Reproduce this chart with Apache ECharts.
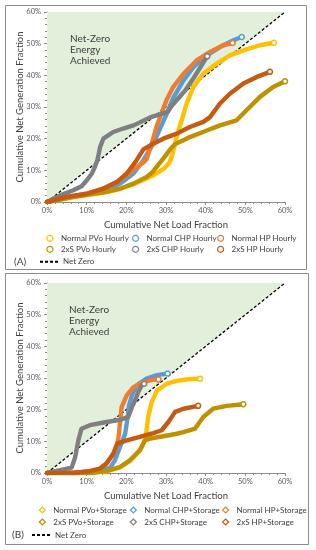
<!DOCTYPE html>
<html><head><meta charset="utf-8">
<script src="https://cdn.jsdelivr.net/npm/echarts@6.0.0/dist/echarts.min.js"></script>
<style>html,body{margin:0;padding:0;background:#fff}#c{width:316px;height:550px}</style>
</head><body><div id="c"></div>
<script>
// ---------- data (values in percent) ----------
const tickValues = [0, 10, 20, 30, 40, 50, 60];
const netZero = [[0, 0], [60, 60]];

// Panel A – hourly
const A_normalPVo = [[0,0],[6.6,1.5],[11.7,2.5],[15,3.1],[18.4,4.1],[21.8,5.6],[25.1,7.4],[27.6,9],[29.5,10.6],[30.8,12.3],[31.5,14.5],[32.2,18],[33,22],[34,26],[35.2,31.1],[36.9,36.3],[39.4,40.5],[42.8,43.7],[46.1,46.3],[49.5,47.9],[53.7,49.5],[57.2,50.3]];
const A_normalCHP = [[0,0],[5,1.4],[10,2.4],[15,3.7],[18.4,5.8],[21.8,9],[24.3,13.2],[26.8,18.4],[28.5,23.2],[30.2,27.9],[31.8,32.8],[34.4,38.4],[36.9,42.6],[40.3,46.3],[43.6,48.9],[47,51.1],[49.1,52.1]];
const A_normalHP  = [[0,0],[5,1.6],[10,2.6],[14.2,4.2],[17.6,6.3],[20.1,8.5],[22.6,11],[24.3,12.5],[25.1,13.5],[26.4,18.4],[27.6,23.7],[28.9,28.2],[30.2,32.4],[31.8,36.3],[34.4,40.5],[37.7,44.7],[41.1,47.4],[44.4,49.5],[46.8,50.2]];
const A_2xSPVo    = [[0,0],[6.6,1.6],[11.7,2.6],[15,3.2],[18.4,4.2],[21.8,5.8],[25.1,7.9],[26.5,9.3],[28.5,12.4],[30,14.8],[31,16.6],[32.3,18.3],[34.4,19.5],[36,20.5],[40.3,22.6],[43.6,24.2],[47.8,25.8],[50.3,29],[53.7,33.2],[57,36.3],[60,38.1]];
const A_2xSCHP    = [[0,0],[3.3,2.1],[6.6,3.7],[8.7,5],[10,6.8],[11.3,9],[12.1,11.1],[12.7,13.2],[13.4,17.4],[14.2,20],[16.7,22.1],[19.2,23.2],[21.8,24.2],[26,26.7],[29.3,28],[30.5,28.6],[31.4,30.3],[33.5,33.3],[34.7,35],[36.9,39],[39,43.2],[40.4,46]];
const A_2xSHP     = [[0,0],[5,1.6],[10,2.6],[14.2,4.2],[17.6,6.3],[20.1,9],[22.6,13.2],[24.3,16.6],[26.8,18.4],[29.3,20],[32.7,21.6],[36,23.7],[39.4,25.3],[41.1,26.8],[43.6,31.1],[46.1,34.2],[49.5,37.4],[52.9,39.5],[56.2,41.1]];

// Panel B – with storage
const B_normalPVo = [[0,0],[10.8,0],[15,0.5],[18.4,1.8],[20.9,3.8],[23.4,7],[24.7,10.3],[25.1,13.5],[25.5,17.7],[26.4,22.4],[27.7,26],[29.3,27.4],[30.2,28.2],[32.7,29.1],[35.5,29.6],[38.6,29.8]];
const B_normalCHP = [[0,0],[6.6,0],[10.8,0.5],[13.4,1],[15.9,1.6],[17.1,4],[18.4,8.2],[19.7,12.4],[20.2,16.6],[20.7,21.4],[21.4,24.5],[22.6,27.7],[25.1,29.8],[27.7,30.9],[30.4,31.4]];
const B_normalHP  = [[0,0],[6.6,0],[10.8,0.6],[13.4,1.4],[15,3],[16.7,6],[17.6,8.5],[18,11],[18.4,15.6],[18.8,20.8],[20.1,24.5],[21.8,27.1],[24.3,28.7],[26.8,29.5],[28.1,29.5]];
const B_2xSPVo    = [[0,0],[10.8,0],[15,0.6],[18.4,1.9],[20.9,4],[23.4,7.2],[24.7,10.3],[26,10.9],[29.3,11.6],[32.7,12.4],[34.4,12.9],[37.3,14],[39.4,17.7],[41.9,20.3],[45.3,21.2],[49.5,21.7]];
const B_2xSCHP    = [[0,0],[3.3,0.9],[6.2,1.7],[7.1,5],[7.9,10.3],[8.7,14],[10.8,15.1],[15,16.1],[18.4,16.8],[20.5,17.7],[21.4,20.8],[22.2,22.9],[23,25.6],[23.9,27.7],[24.5,28.2]];
const B_2xSHP     = [[0,0],[6.6,0],[10.8,0.6],[13.4,1.4],[15,3],[16.7,6.1],[17.7,9.3],[20.1,10.3],[23.4,11.4],[26.8,12.6],[28.9,13.5],[30.6,16.1],[32.3,19.3],[34.4,20.3],[38.1,21.2]];

const namesA = ['Normal PVo Hourly','Normal CHP Hourly','Normal HP Hourly','2xS PVo Hourly','2xS CHP Hourly','2xS HP Hourly'];
const namesB = ['Normal PVo+Storage','Normal CHP+Storage','Normal HP+Storage','2xS PVo+Storage','2xS CHP+Storage','2xS HP+Storage'];
const colors = ['#FFC000','#5B9BD5','#ED7D31','#BF9000','#7F7F7F','#C55A11'];

// ---------- chart ----------
const FONT = 'Lato, "Liberation Sans", sans-serif';
const chart = echarts.init(document.getElementById('c'), null, {renderer: 'canvas'});

function axisX(gi) {
  return {
    gridIndex: gi, type: 'value', min: 0, max: 60, interval: 10,
    axisLine: {lineStyle: {color: '#8c8c8c', width: 1}},
    axisTick: {show: true, length: 3, lineStyle: {color: '#8c8c8c'}},
    minorTick: {show: true, splitNumber: 5, length: 2, lineStyle: {color: '#8c8c8c'}},
    splitLine: {show: false}, minorSplitLine: {show: false},
    axisLabel: {formatter: '{value}%', fontSize: 7.5, color: '#595959', margin: 5, fontFamily: FONT},
    name: 'Cumulative Net Load Fraction', nameLocation: 'middle', nameGap: 18, nameMoveOverlap: false,
    nameTextStyle: {fontSize: 9.5, color: '#404040', fontFamily: FONT}
  };
}
function axisY(gi) {
  return {
    gridIndex: gi, type: 'value', min: 0, max: 60, interval: 10,
    axisLine: {show: true, lineStyle: {color: '#8c8c8c', width: 1}},
    axisTick: {show: true, length: 3, lineStyle: {color: '#8c8c8c'}},
    minorTick: {show: true, splitNumber: 5, length: 2, lineStyle: {color: '#8c8c8c'}},
    splitLine: {show: false}, minorSplitLine: {show: false},
    axisLabel: {formatter: '{value}%', fontSize: 7.5, color: '#595959', margin: 6, fontFamily: FONT},
    name: 'Cumulative Net Generation Fraction', nameLocation: 'middle', nameGap: 22, nameMoveOverlap: false,
    nameTextStyle: {fontSize: 9.5, color: '#404040', fontFamily: FONT}
  };
}

function curve(name, data, color, gi, sym) {
  const d = data.map((p, i) => i === data.length - 1
    ? {value: p, symbol: sym, symbolSize: 5, itemStyle: {color: '#fff', borderColor: color, borderWidth: 1.5}}
    : {value: p, symbol: 'none'});
  return {
    name, type: 'line', xAxisIndex: gi, yAxisIndex: gi, data: d,
    showSymbol: true, showAllSymbol: true, symbol: 'none',
    lineStyle: {color, width: 4.4, cap: 'round', join: 'round'},
    itemStyle: {color}, color, z: 3, silent: true, animation: false
  };
}

const series = [];
[0, 1].forEach(gi => {
  series.push({name: 'zone' + gi, type: 'line', xAxisIndex: gi, yAxisIndex: gi, data: netZero,
    symbol: 'none', lineStyle: {width: 0, opacity: 0},
    areaStyle: {color: '#E2EFDA', opacity: 1, origin: 'end'}, z: 1, silent: true, animation: false});
  series.push({name: 'Net Zero', type: 'line', xAxisIndex: gi, yAxisIndex: gi, data: netZero,
    symbol: 'none', color: '#000', lineStyle: {color: '#000', width: 1.3, type: [3, 2]}, z: 2, silent: true, animation: false});
});
const setsA = [A_normalPVo, A_normalCHP, A_normalHP, A_2xSPVo, A_2xSCHP, A_2xSHP];
const setsB = [B_normalPVo, B_normalCHP, B_normalHP, B_2xSPVo, B_2xSCHP, B_2xSHP];
setsA.forEach((s, i) => series.push(curve(namesA[i], s, colors[i], 0, 'circle')));
setsB.forEach((s, i) => series.push(curve(namesB[i], s, colors[i], 1, 'circle')));

// legends: one cell per entry
const legends = [];
function cell(name, cx, cy, icon, color) {
  legends.push({
    data: [{name, icon, itemStyle: {color: '#fff', borderColor: color, borderWidth: 1.2}}],
    icon,
    left: cx - 3, top: cy - 5, padding: 0, itemWidth: 6, itemHeight: 6, itemGap: 0,
    symbolKeepAspect: true, selectedMode: false,
    lineStyle: {width: 0, opacity: 0},
    itemStyle: {color: '#fff', borderColor: color, borderWidth: 1.2},
    textStyle: {fontSize: 8, lineHeight: 10, color: '#404040', fontFamily: FONT, padding: [0, 0, 0, 3]}
  });
}
function nzCell(left, cy) {
  legends.push({
    data: [{name: 'Net Zero', icon: 'path://M0,0h3v2h-3z M5,0h3v2h-3z M10,0h3v2h-3z M15,0h3v2h-3z', itemStyle: {color: '#000', borderWidth: 0}}],
    left, top: cy - 5, padding: 0, itemWidth: 18, itemHeight: 2, itemGap: 0,
    symbolKeepAspect: true, selectedMode: false,
    textStyle: {fontSize: 8, lineHeight: 10, color: '#404040', fontFamily: FONT}
  });
}
const colA = [49.3, 135, 220], rowA = [238.3, 249.3];
const colB = [41.7, 132.7, 225], rowB = [510, 522];
namesA.forEach((n, i) => cell(n, colA[i % 3], rowA[Math.floor(i / 3)], 'circle', colors[i]));
namesB.forEach((n, i) => cell(n, colB[i % 3], rowB[Math.floor(i / 3)], 'diamond', colors[i]));
nzCell(40, 261.7);
nzCell(32, 535);

const txt = (x, y, s, size, lh) => ({type: 'text', left: x, top: y, silent: true, z: 10,
  style: {text: s, fontSize: size, lineHeight: lh, fill: '#404040', fontFamily: FONT}});

chart.setOption({
  animation: false,
  grid: [{left: 47, top: 12, width: 238, height: 190}, {left: 47, top: 283, width: 238, height: 190}],
  xAxis: [axisX(0), axisX(1)],
  yAxis: [axisY(0), axisY(1)],
  legend: legends,
  series,
  graphic: [
    {type: 'rect', shape: {x: 5.5, y: 5.5, width: 301, height: 264}, style: {fill: 'none', stroke: '#8c8c8c', lineWidth: 1}, silent: true, z: -1},
    {type: 'rect', shape: {x: 5.5, y: 273.5, width: 303, height: 271}, style: {fill: 'none', stroke: '#8c8c8c', lineWidth: 1}, silent: true, z: -1},
    txt(70, 33, 'Net-Zero\nEnergy\nAchieved', 10, 11.3),
    txt(69, 304, 'Net-Zero\nEnergy\nAchieved', 10, 11.3),
    txt(14, 256, '(A)', 10, 12),
    txt(12, 529, '(B)', 10, 12)
  ]
});
</script></body></html>
